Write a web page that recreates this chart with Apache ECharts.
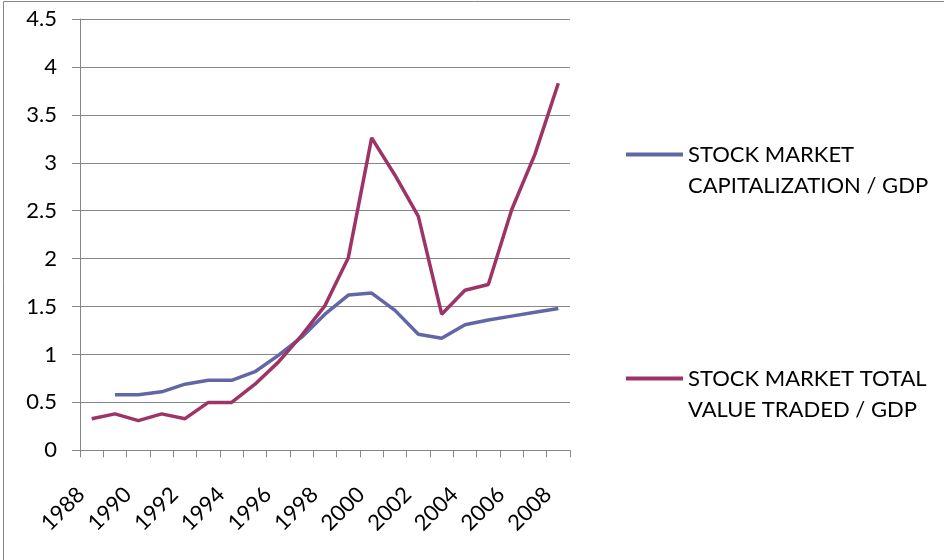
<!DOCTYPE html>
<html>
<head>
    <meta charset="UTF-8">
    <title>Stock market / GDP</title>
    <script src="https://cdn.jsdelivr.net/npm/echarts@6/dist/echarts.min.js"></script>
    <style>
        html, body { margin: 0; padding: 0; background: #fff; }
        #chart { width: 944px; height: 560px; }
    </style>
</head>
<body>
<div id="chart"></div>
<script>
    // years on the x axis
    var years = ['1988', '1989', '1990', '1991', '1992', '1993', '1994', '1995', '1996', '1997', '1998',
        '1999', '2000', '2001', '2002', '2003', '2004', '2005', '2006', '2007', '2008'];
    // stock market capitalization / GDP (no value for 1988)
    var capitalization = [null, 0.58, 0.58, 0.61, 0.69, 0.73, 0.73, 0.82, 0.99, 1.18, 1.42,
        1.62, 1.64, 1.46, 1.21, 1.17, 1.31, 1.36, 1.40, 1.44, 1.48];
    // stock market total value traded / GDP
    var valueTraded = [0.33, 0.38, 0.31, 0.38, 0.33, 0.50, 0.50, 0.69, 0.92, 1.20, 1.51,
        2.01, 3.26, 2.87, 2.44, 1.42, 1.67, 1.73, 2.51, 3.09, 3.83];
    var seriesNames = ['STOCK MARKET\nCAPITALIZATION / GDP', 'STOCK MARKET TOTAL\nVALUE TRADED / GDP'];

    var font = 'Lato';
    var gray = '#868686';

    var chart = echarts.init(document.getElementById('chart'), null, {renderer: 'canvas'});

    // one legend per entry; a blank first line puts the line icon level with the first text line
    function legendAt(name, top) {
        return {
            data: [name],
            left: 626,
            top: top,
            padding: 0,
            icon: 'rect',
            itemWidth: 57,
            itemHeight: 4,
            selectedMode: false,
            formatter: function (n) { return ' \n' + n; },
            textStyle: {
                fontFamily: font,
                fontSize: 22,
                color: '#000',
                lineHeight: 31
            }
        };
    }

    chart.setOption({
        animation: false,
        grid: {left: 80, right: 374, top: 18.3, bottom: 109.7, containLabel: false},
        graphic: [{
            type: 'rect',
            shape: {x: 3.5, y: 1.5, width: 1000, height: 700},
            style: {fill: 'none', stroke: gray, lineWidth: 1}
        }],
        legend: [legendAt(seriesNames[0], 108), legendAt(seriesNames[1], 332)],
        xAxis: {
            type: 'category',
            data: years,
            boundaryGap: true,
            axisLine: {lineStyle: {color: gray, width: 1}},
            axisTick: {show: true, interval: 0, length: 7, lineStyle: {color: gray}},
            axisLabel: {
                interval: 1,
                rotate: 45,
                margin: 30,
                padding: [0, 15, 0, 0],
                color: '#000',
                fontFamily: font,
                fontSize: 22
            }
        },
        yAxis: {
            type: 'value',
            min: 0,
            max: 4.5,
            interval: 0.5,
            axisLine: {show: true, lineStyle: {color: gray, width: 1}},
            axisTick: {show: true, length: 8, lineStyle: {color: gray}},
            splitLine: {lineStyle: {color: gray, width: 1}},
            axisLabel: {
                margin: 23,
                lineHeight: 30,
                padding: [8, 0, 0, 0],
                color: '#000',
                fontFamily: font,
                fontSize: 22
            }
        },
        series: [
            {
                name: seriesNames[0],
                type: 'line',
                data: capitalization,
                showSymbol: false,
                symbol: 'none',
                lineStyle: {color: '#6366A6', width: 3.5},
                itemStyle: {color: '#6366A6'}
            },
            {
                name: seriesNames[1],
                type: 'line',
                data: valueTraded,
                showSymbol: false,
                symbol: 'none',
                lineStyle: {color: '#9E3366', width: 3.5},
                itemStyle: {color: '#9E3366'}
            }
        ]
    });
</script>
</body>
</html>
